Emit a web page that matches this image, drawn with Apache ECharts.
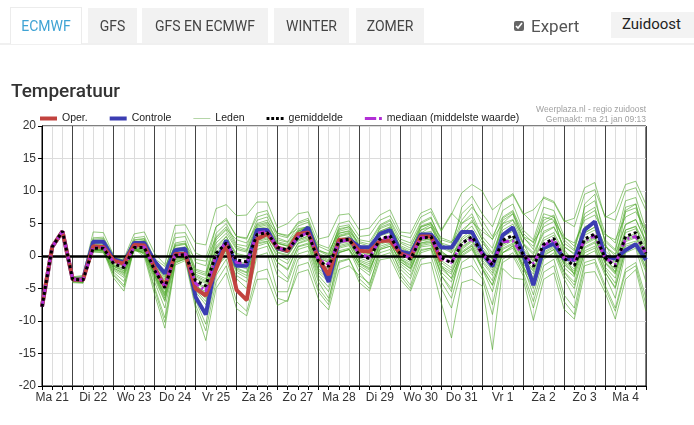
<!DOCTYPE html>
<html>
<head>
<meta charset="utf-8">
<script src="https://cdn.jsdelivr.net/npm/echarts@6.0.0/dist/echarts.min.js"></script>
<style>
html,body{margin:0;padding:0;background:#fff;width:694px;height:425px;overflow:hidden;font-family:Roboto,'Liberation Sans',Arial,sans-serif;}
#chart{position:absolute;left:0;top:0;width:694px;height:425px;}
.hdr{position:absolute;left:0;top:0;width:694px;height:43px;border-bottom:2px solid #f0f0f0;z-index:3;}
.tab{position:absolute;top:8px;height:35px;line-height:37px;background:#f2f2f2;color:#444;font-size:14px;text-align:center;}
.tab.act{background:#fff;color:#3fa3d4;border:1px solid #ececec;border-bottom:none;height:36px;top:7px;}
.exp{position:absolute;left:514px;top:13px;font-size:17px;color:#555;line-height:26px;}
.exp input{width:10px;height:10px;margin:0 7px 0 0;vertical-align:1px;filter:grayscale(1);}
.sel{position:absolute;left:611px;top:12px;width:83px;height:26px;background:#f3f3f3;color:#222;font-size:15px;line-height:24px;}
.sel span{margin-left:11px;}
</style>
</head>
<body>
<div id="chart"></div>
<div class="hdr">
  <div class="tab act" style="left:10px;width:70px;">ECMWF</div>
  <div class="tab" style="left:88px;width:49px;">GFS</div>
  <div class="tab" style="left:142px;width:126px;">GFS EN ECMWF</div>
  <div class="tab" style="left:274px;width:75px;">WINTER</div>
  <div class="tab" style="left:356px;width:68px;">ZOMER</div>
  <div class="exp"><input type="checkbox" checked>Expert</div>
  <div class="sel"><span>Zuidoost</span></div>
</div>
<script>
// Day names (one per calendar day) and hours of the 6-hourly steps
const days = ['Ma 21','Di 22','Wo 23','Do 24','Vr 25','Za 26','Zo 27','Ma 28','Di 29','Wo 30','Do 31','Vr 1','Za 2','Zo 3','Ma 4','Di 5'];
const hours = ['00','06','12','18'];
const startHour = 6, endHour = 360, stepHour = 6;

// Operational run (ends after 10 days)
const oper = [-7.8,1.4,3.8,-3.6,-3.7,1.5,1.4,-0.7,-1.2,1.7,1.6,-1.8,-4.7,0.3,0.3,-5.0,-6.1,-2.0,1.9,-5.2,-6.8,2.6,3.4,1.3,0.8,3.4,3.6,-0.4,-2.9,2.5,2.5,0.8,0.7,2.3,2.4,0.4,-0.2,3.0,3.0,-0.8];
// Control run
const controle = [-7.8,1.4,3.8,-3.6,-3.6,2.2,2.2,-0.5,-1.0,2.0,2.0,-0.8,-2.7,0.9,1.1,-6.3,-9.0,-1.0,2.4,-1.5,-1.5,4.0,4.0,1.2,0.8,3.0,4.4,-0.1,-4.0,2.3,2.6,1.4,1.3,3.4,4.0,0.7,0.3,3.3,3.3,1.3,1.3,3.7,3.7,0.5,-1.6,3.2,4.4,0.4,-4.5,1.2,1.9,-0.4,-0.6,4.0,5.3,-0.1,-0.4,0.9,1.8,-0.6];
// Ensemble mean
const gemiddelde = [-7.8,1.4,3.8,-3.6,-3.7,1.2,1.2,-1.2,-1.8,1.3,1.3,-2.2,-4.9,0.1,0.2,-3.8,-4.6,0.4,2.0,-0.6,-0.9,3.3,3.6,1.3,0.9,2.9,3.5,-0.8,-1.6,2.3,2.6,0.1,-0.4,2.6,3.1,0.3,-0.5,2.7,3.0,-0.2,-1.1,1.9,3.0,0.4,-1.4,2.4,3.2,0.2,-1.6,1.8,2.7,-0.4,-1.5,2.6,3.4,-0.3,-1.6,3.0,3.6,0.4];
// Ensemble median
const mediaan = [-7.8,1.4,3.8,-3.6,-3.7,1.3,1.3,-1.0,-1.6,1.4,1.4,-2.0,-4.6,0.2,0.3,-4.2,-5.4,0.2,2.1,-1.0,-1.1,3.5,3.8,1.2,0.9,2.9,3.6,-0.6,-1.3,2.2,2.5,0.3,-0.2,2.5,3.0,0.4,-0.3,2.8,2.9,-0.4,-1.0,2.0,2.6,0.3,-1.2,2.2,2.3,0.1,-1.1,1.6,2.5,-0.3,-0.8,2.4,3.1,-0.3,-1.3,2.6,3.0,0.4];

// Ensemble members (Leden)
const lid01 = [-7.8,1.5,3.9,-3.4,-3.3,2.8,2.9,0.0,-0.7,2.8,3.0,-0.5,-2.5,3.5,3.6,0.5,-0.3,4.5,5.5,3.0,2.8,6.0,6.5,3.5,3.0,5.2,5.8,1.8,1.2,5.0,5.4,3.0,3.2,5.5,6.2,3.2,2.8,6.0,6.8,3.8,6.4,9.7,11.0,10.0,7.1,8.4,9.4,6.4,7.1,8.9,8.2,5.3,5.8,10.5,11.3,5.9,6.9,11.0,11.5,7.9];
const lid02 = [-7.8,1.2,3.6,-4.1,-4.2,0.9,0.7,-3.4,-5.4,1.1,-0.1,-5.9,-11.1,-1.4,-0.7,-8.1,-13.0,-5.0,-2.6,-8.1,-9.2,-3.6,-3.5,-7.6,-6.8,-2.6,-2.1,-6.6,-8.3,-2.1,-1.5,-3.0,-4.2,0.5,1.0,-2.0,-3.5,0.8,1.2,-3.0,-5.0,0.2,1.2,-1.8,-4.5,0.5,1.6,-1.5,-4.5,0.2,1.0,-3.0,-5.0,0.8,1.5,-2.5,-4.8,1.0,1.8,-2.0];
const lid03 = [-7.8,1.3,3.7,-3.9,-4.0,0.8,0.9,-2.5,-3.9,1.0,0.5,-4.0,-8.0,-0.8,-0.3,-6.0,-9.0,-2.0,0.5,-3.5,-5.0,1.0,1.5,-3.0,-4.0,0.3,0.8,-4.0,-6.5,-0.8,-0.4,-4.1,-5.4,-0.6,-0.3,-3.6,-5.4,-1.3,-1.0,-7.2,-12.6,-4.1,-3.6,-4.6,-14.4,-1.9,-3.4,-3.6,-9.9,-3.6,-2.6,-8.2,-9.7,-2.6,-2.4,-5.6,-9.7,-3.6,-2.1,-8.5];
const lid04 = [-7.8,1.6,4.0,-3.2,-3.0,3.7,3.6,0.1,-0.4,3.4,3.7,0.4,-1.3,4.7,4.8,2.0,1.7,7.3,7.9,6.2,6.3,8.3,8.3,4.3,5.0,6.5,6.8,2.6,3.0,6.3,6.5,4.0,4.3,6.3,7.1,3.7,3.5,6.6,7.3,4.0,6.6,5.0,6.0,2.5,0.5,4.5,5.5,2.0,0.5,3.8,4.5,1.5,0.2,4.5,5.2,1.5,0.0,4.8,5.6,2.0];
const lid05 = [-7.8,1.4,3.8,-3.5,-3.5,2.0,2.1,-0.6,-1.0,2.2,2.3,-1.2,-3.5,1.2,1.4,-2.5,-3.0,2.0,3.5,1.0,0.6,4.6,5.0,2.5,2.1,4.0,4.6,0.4,-0.3,3.5,3.9,1.4,1.0,3.8,4.4,1.6,0.9,4.0,4.4,1.3,0.5,3.4,4.6,2.0,0.3,4.0,4.9,1.8,0.2,3.5,4.4,1.4,0.4,4.4,5.2,1.5,0.3,4.9,5.6,2.3];
const lid06 = [-7.8,1.3,3.7,-3.8,-3.9,0.7,0.6,-1.9,-2.6,0.8,0.6,-3.0,-6.2,-0.5,-0.3,-5.0,-6.5,-1.2,0.8,-2.0,-2.6,2.2,2.6,0.1,-0.6,1.9,2.4,-2.0,-3.0,1.2,1.6,-1.1,-1.8,1.5,2.0,-0.9,-1.9,1.6,1.9,-1.5,-2.5,0.7,1.8,-0.9,-3.0,1.2,2.0,-1.2,-3.3,0.6,1.5,-1.8,-3.2,1.4,2.2,-1.7,-3.4,1.8,2.3,-1.2];
const lid07 = [-7.8,1.4,3.8,-3.6,-3.7,1.4,1.3,-1.1,-1.6,1.5,1.4,-2.0,-4.4,0.5,0.6,-3.0,-3.8,1.0,2.6,0.2,-0.2,3.8,4.1,1.9,1.5,3.4,3.8,-0.3,-1.0,2.6,3.0,0.6,0.1,3.1,3.6,0.8,0.2,3.2,3.4,0.4,-0.3,2.5,3.6,1.0,-0.6,3.0,3.8,0.9,-0.8,2.4,3.2,0.3,-0.7,3.2,4.0,0.4,-0.9,3.6,4.2,1.1];
const lid08 = [-7.8,1.4,3.8,-3.7,-3.8,1.0,0.9,-1.5,-2.3,1.1,0.9,-2.8,-5.8,-0.3,0.0,-4.5,-5.8,-0.5,1.2,-1.8,-2.5,2.0,2.3,-2.0,-3.5,1.0,1.5,-3.5,-5.5,0.5,1.0,-1.5,-2.5,2.0,2.6,-0.5,-1.5,3.5,4.5,2.0,1.5,5.5,7.5,5.5,3.0,6.0,7.0,3.5,2.0,6.5,6.0,2.5,1.0,7.5,8.5,3.5,2.0,8.5,9.0,4.0];
const lid09 = [-7.8,1.5,3.9,-3.4,-3.4,2.4,2.5,-0.4,-0.8,2.5,2.7,-0.8,-2.2,2.8,3.0,-1.0,-1.5,4.5,5.8,3.0,2.6,6.6,7.0,3.2,2.8,5.0,5.5,1.0,0.2,4.2,4.5,1.5,0.8,3.5,4.0,0.5,-0.8,2.5,2.6,-1.5,-3.5,0.5,1.5,-2.0,-5.5,0.5,1.5,-1.5,-6.0,-0.5,0.5,-3.5,-6.5,0.0,0.8,-3.0,-6.5,0.5,1.2,-4.0];
const lid10 = [-7.8,1.3,3.7,-3.9,-4.1,1.0,0.8,-2.8,-4.5,1.2,0.4,-4.8,-9.5,-1.0,-0.5,-6.8,-10.5,-3.0,-0.5,-5.5,-7.0,0.0,0.5,-5.5,-5.5,-0.5,0.2,-5.0,-7.0,0.5,1.0,-2.5,-4.5,1.0,1.5,-2.5,-4.5,0.5,1.0,-4.0,-6.5,-1.0,0.0,-3.0,-7.5,-0.5,0.5,-2.5,-7.0,-1.5,-0.5,-6.0,-8.0,-1.0,-0.5,-4.5,-8.0,-2.0,-1.0,-6.5];
const lid11 = [-7.8,1.4,3.8,-3.3,-3.1,1.5,1.6,-0.3,-0.6,1.8,2.0,-0.4,-1.6,1.5,1.8,-0.5,-0.8,2.8,4.2,2.5,2.0,4.8,5.2,3.5,3.2,4.2,4.5,1.5,0.8,3.5,3.8,2.0,1.5,3.6,4.2,2.2,1.6,4.5,5.0,2.8,2.2,4.0,5.2,3.8,2.6,5.0,5.6,3.0,2.2,4.5,5.3,2.8,2.0,5.5,6.3,3.2,2.5,6.0,6.8,4.0];
const lid12 = [-7.8,1.4,3.8,-3.6,-3.8,1.1,1.0,-1.4,-2.0,1.2,1.1,-2.5,-5.2,-0.2,0.0,-4.2,-5.0,0.0,1.6,-1.0,-1.4,3.0,3.3,0.9,0.5,2.5,3.1,-1.2,-2.0,1.9,2.2,-0.3,-0.9,2.2,2.7,-0.2,-1.0,2.3,2.6,-0.7,-1.8,1.4,2.5,-0.2,-2.2,1.8,2.6,-0.5,-2.4,1.2,2.1,-1.0,-2.3,2.0,2.8,-0.9,-2.4,2.4,3.0,-0.3];
const lid13 = [-7.8,1.4,3.8,-3.5,-3.6,1.8,1.7,-0.9,-1.3,1.6,1.9,-1.6,-4.0,0.8,1.0,-3.2,-4.0,1.5,3.0,0.0,-0.5,3.5,3.8,1.0,0.5,3.2,4.0,-0.5,-1.5,3.0,3.5,0.5,-0.5,3.8,4.5,1.0,-0.2,4.0,4.8,0.8,-0.5,3.5,5.5,2.5,-0.5,5.5,6.5,2.0,-1.0,5.0,6.0,0.5,-3.0,8.0,9.5,2.0,-1.5,7.0,8.0,1.5];
const lid14 = [-7.8,1.3,3.7,-3.8,-4.0,0.6,0.5,-2.2,-3.3,0.9,0.4,-3.5,-7.0,-0.9,-0.5,-5.5,-7.5,-1.8,0.0,-3.0,-4.0,1.5,2.0,-1.0,-2.0,1.5,2.0,-2.5,-4.0,0.8,1.2,-1.8,-3.0,1.0,1.5,-1.5,-3.0,1.0,1.2,-2.5,-4.0,0.0,1.0,-2.0,-4.5,0.5,1.2,-2.0,-5.0,0.0,1.0,-2.5,-4.5,0.5,1.2,-2.5,-5.0,1.0,1.5,-2.5];
const lid15 = [-7.8,1.5,3.9,-3.4,-3.5,2.6,2.7,-0.5,-1.0,2.4,2.6,-1.0,-3.0,2.0,2.3,-2.0,-2.5,3.5,5.0,1.8,1.5,5.5,6.0,2.8,2.2,4.6,5.2,0.8,0.0,4.5,4.8,2.2,1.8,4.6,5.4,2.0,1.2,5.0,5.8,2.5,2.0,6.5,8.0,4.5,2.5,7.0,8.0,4.0,2.5,7.5,7.0,3.0,1.5,6.0,7.0,2.5,1.0,7.5,8.0,3.0];
const lid16 = [-7.8,1.4,3.8,-3.7,-3.6,1.5,1.4,-1.6,-2.5,1.4,1.0,-2.8,-6.0,0.3,0.6,-4.5,-6.0,0.5,2.2,-1.5,-2.0,3.0,3.5,0.5,0.0,2.5,3.0,-1.5,-2.8,2.0,2.4,-0.8,-1.5,2.4,3.0,-0.5,-1.8,2.0,2.2,-3.0,-5.5,2.0,3.5,1.0,-1.0,5.0,6.5,3.0,1.0,6.0,5.5,1.0,-1.0,3.5,4.5,0.0,-2.5,4.0,4.5,0.0];
const lid17 = [-7.8,1.5,3.8,-3.5,-3.4,1.9,2.0,-0.8,-1.2,2.0,2.2,-1.5,-3.8,1.8,2.0,-2.8,-3.5,3.0,4.5,1.5,1.0,5.0,5.5,2.0,1.5,3.8,4.4,0.0,-0.8,3.2,3.6,0.8,0.4,4.4,5.0,1.2,0.5,4.6,5.2,1.8,1.0,7.5,9.2,6.5,4.5,8.6,9.6,6.6,5.0,9.1,8.4,5.5,4.5,9.5,10.2,6.1,5.5,10.0,10.5,7.0];
const lid18 = [-7.8,1.3,3.7,-4.0,-4.1,1.0,0.9,-3.0,-4.8,1.2,0.2,-5.2,-10.2,-1.2,-0.3,-7.5,-11.5,-4.0,-1.5,-7.0,-8.5,-2.5,-2.0,-6.5,-7.0,-1.5,-1.0,-5.5,-7.5,-1.0,-0.5,-3.5,-5.0,0.0,0.5,-3.0,-5.0,-0.5,0.0,-5.0,-8.0,-2.0,-1.5,-3.5,-9.0,-1.0,0.0,-3.0,-8.0,-2.5,-1.5,-7.0,-9.0,-1.5,-1.0,-5.0,-8.5,-2.5,-1.5,-7.5];
const lid19 = [-7.8,1.4,3.8,-3.5,-3.6,1.6,1.7,-0.8,-1.4,1.9,1.8,-1.6,-4.2,0.6,0.9,-3.5,-4.2,1.2,3.0,0.4,0.0,4.2,4.5,2.0,1.6,3.6,4.1,-0.2,-1.0,3.0,3.3,0.8,0.3,3.3,3.9,1.0,0.1,3.5,3.8,0.6,-0.3,2.8,4.0,1.4,-0.5,3.3,4.2,1.2,-0.6,2.8,3.6,0.6,-0.6,3.6,4.4,0.8,-0.6,4.0,4.6,1.5];
const lid20 = [-7.8,1.4,3.8,-3.7,-3.8,0.9,0.9,-1.6,-2.2,1.0,0.9,-2.6,-5.6,-0.3,-0.2,-4.6,-5.5,-0.4,1.3,-1.2,-1.6,2.6,3.0,0.6,0.2,2.3,2.8,-1.4,-2.4,1.6,2.0,-0.6,-1.2,2.0,2.5,-0.4,-1.3,2.0,2.4,-1.0,-2.2,1.0,2.2,-0.6,-2.6,1.5,2.4,-0.8,-2.8,1.0,1.9,-1.3,-2.8,1.8,2.6,-1.1,-2.8,2.2,2.8,-0.6];
const lid21 = [-7.8,1.5,3.9,-3.4,-3.4,2.2,2.3,-0.7,-1.1,2.1,2.4,-1.3,-3.2,1.6,1.9,-2.2,-2.8,2.5,4.0,1.2,0.8,4.4,4.8,2.2,1.8,3.8,4.3,0.2,-0.6,3.8,4.2,1.6,1.2,4.2,4.8,1.4,0.6,4.4,5.0,1.6,0.8,5.0,6.5,3.0,1.2,5.8,6.8,2.8,1.5,5.5,6.3,2.0,0.8,6.5,7.5,2.2,0.8,6.8,7.4,3.2];
const lid22 = [-7.8,1.3,3.7,-3.7,-3.9,1.1,1.0,-2.0,-3.0,1.1,0.8,-3.2,-6.8,-0.6,-0.2,-5.2,-7.0,-0.8,1.0,-2.5,-3.4,2.4,2.8,-0.3,-1.2,2.0,2.6,-2.2,-3.6,1.4,1.8,-1.2,-2.2,1.8,2.3,-1.2,-2.4,1.8,2.1,-2.0,-3.4,0.5,1.6,-1.5,-3.8,1.0,1.8,-1.8,-4.0,0.4,1.3,-2.4,-4.0,1.2,2.0,-2.0,-4.2,1.5,2.0,-1.8];
const lid23 = [-7.8,1.4,3.8,-3.6,-3.6,1.3,1.2,-1.3,-1.9,1.3,1.2,-2.3,-5.0,0.0,0.3,-4.0,-4.8,0.3,2.0,-0.8,-1.2,3.2,3.6,1.5,1.2,3.8,4.6,0.8,0.4,4.0,4.5,2.5,2.2,4.8,5.6,2.6,2.0,5.2,6.0,2.0,0.5,2.0,3.0,0.2,-1.8,2.2,3.0,-0.2,-2.0,1.6,2.6,-0.8,-2.0,2.4,3.3,-0.6,-2.0,2.8,3.5,0.2];
const lid24 = [-7.8,1.3,3.7,-3.7,-3.7,0.8,0.8,-1.8,-2.8,0.9,0.7,-3.0,-6.5,-0.4,0.0,-4.8,-6.2,-0.8,0.8,-2.2,-3.0,1.8,2.2,-1.0,-2.2,1.4,1.8,-3.0,-4.8,0.6,1.0,-1.0,-2.0,1.2,1.8,-0.8,-2.0,1.4,1.6,-1.8,-2.8,1.2,2.4,0.0,-1.8,1.8,2.6,-0.6,-2.2,1.5,2.2,-1.2,-2.6,2.2,3.0,-1.0,-2.6,2.6,3.2,-0.2];
const leden = [lid01,lid02,lid03,lid04,lid05,lid06,lid07,lid08,lid09,lid10,lid11,lid12,lid13,lid14,lid15,lid16,lid17,lid18,lid19,lid20,lid21,lid22,lid23,lid24];

// Y-axis ticks
const yMin = -20, yMax = 20, yStep = 5;

// Build 6-hourly category labels
const times = [];
for (let h = startHour; h <= endHour; h += stepHour) {
  times.push(days[Math.floor(h / 24)] + ' ' + hours[(h % 24) / 6]);
}
const isNoon = (i) => times[i].endsWith(' 12');
const isMidnight = (i) => times[i].endsWith(' 00');

const FONT = "'Liberation Sans', Arial, sans-serif";
const cOper = '#c2433f', cCtrl = '#3b3db2', cLid = 'rgba(72,165,34,0.58)', cMed = '#b22fd6';

const series = [];
leden.forEach((m) => {
  series.push({
    name: 'Leden', type: 'line', data: m, symbol: 'none', silent: true, z: 2,
    lineStyle: { width: 1, color: cLid }, itemStyle: { color: cLid },
    emphasis: { disabled: true }
  });
});
series.push({
  name: 'zero', type: 'line', data: [], symbol: 'none', silent: true, z: 3,
  markLine: { silent: true, symbol: 'none', label: { show: false },
    lineStyle: { color: '#000', width: 2.5, type: 'solid' }, data: [{ yAxis: 0 }] }
});
series.push({
  name: 'Controle', type: 'line', data: controle, symbol: 'none', z: 4,
  lineStyle: { width: 4, color: cCtrl }, itemStyle: { color: cCtrl }, emphasis: { disabled: true }
});
series.push({
  name: 'Oper.', type: 'line', data: oper, symbol: 'none', z: 5,
  lineStyle: { width: 4, color: cOper }, itemStyle: { color: cOper }, emphasis: { disabled: true }
});
series.push({
  name: 'mediaan (middelste waarde)', type: 'line', data: mediaan, symbol: 'none', z: 6,
  lineStyle: { width: 3, color: cMed, type: [7, 3, 2, 3] }, itemStyle: { color: cMed }, emphasis: { disabled: true }
});
series.push({
  name: 'gemiddelde', type: 'line', data: gemiddelde, symbol: 'none', z: 7,
  lineStyle: { width: 3, color: '#000', type: [3, 3] }, itemStyle: { color: '#000' }, emphasis: { disabled: true }
});

const legendItem = (name, icon, color) => ({
  name, icon, itemStyle: { color, borderWidth: 0, opacity: 1 }, lineStyle: { width: 0 }
});

const chart = echarts.init(document.getElementById('chart'), null, { renderer: 'canvas' });
chart.setOption({
  animation: false,
  backgroundColor: '#fff',
  title: [
    { text: 'Temperatuur', left: 11, top: 83, padding: 0,
      textStyle: { fontSize: 19, fontWeight: 500, color: '#333', fontFamily: 'Roboto' } },
    { text: 'Weerplaza.nl - regio zuidoost', right: 48, top: 105, padding: 0,
      textStyle: { fontSize: 8.5, fontWeight: 'normal', color: '#a0a0a0', fontFamily: FONT } },
    { text: 'Gemaakt: ma 21 jan 09:13', right: 48, top: 115, padding: 0,
      textStyle: { fontSize: 8.5, fontWeight: 'normal', color: '#a0a0a0', fontFamily: FONT } }
  ],
  legend: {
    left: 40, top: 113, padding: 0, itemGap: 22, itemWidth: 17, itemHeight: 4,
    selectedMode: false, symbolKeepAspect: true,
    textStyle: { fontSize: 10.5, color: '#222', fontFamily: FONT },
    data: [
      legendItem('Oper.', 'path://M0,0h17v4h-17z', cOper),
      legendItem('Controle', 'path://M0,0h17v4h-17z', cCtrl),
      legendItem('Leden', 'path://M0,0h17v1h-17z', '#b5d6a8'),
      legendItem('gemiddelde', 'path://M1,0h3v3h-3zM6,0h3v3h-3zM11,0h3v3h-3zM16,0h3v3h-3z', '#000'),
      legendItem('mediaan (middelste waarde)', 'path://M0,0h12v3h-12zM15,0h3v3h-3z', cMed)
    ]
  },
  grid: { left: 42, right: 48, top: 126, bottom: 39, show: true, borderColor: '#000', borderWidth: 1, backgroundColor: 'transparent' },
  xAxis: [
    {
      type: 'category', data: times, boundaryGap: false, position: 'bottom',
      axisLine: { onZero: false, lineStyle: { color: '#000', width: 1 } },
      axisTick: { show: true, interval: 0, length: 4, lineStyle: { color: '#000' } },
      axisLabel: { interval: (i) => isNoon(i), formatter: (v) => v.slice(0, v.lastIndexOf(' ')),
        fontSize: 12, color: '#333', fontFamily: FONT, margin: 6 },
      splitLine: { show: true, interval: 0, lineStyle: { color: '#dcdcdc', width: 1 } }
    },
    {
      type: 'category', data: times, boundaryGap: false, position: 'bottom',
      axisLine: { show: false, onZero: false }, axisTick: { show: false }, axisLabel: { show: false },
      splitLine: { show: true, interval: (i) => isMidnight(i), lineStyle: { color: '#444', width: 1 } }
    }
  ],
  yAxis: {
    type: 'value', min: yMin, max: yMax, interval: yStep,
    axisLine: { show: true, onZero: false, lineStyle: { color: '#000' } },
    axisTick: { show: true, length: 4, lineStyle: { color: '#000' } },
    axisLabel: { fontSize: 12, color: '#333', fontFamily: FONT, margin: 6 },
    splitLine: { show: true, lineStyle: { color: '#dcdcdc', width: 1 } }
  },
  series: series
});
</script>
</body>
</html>
